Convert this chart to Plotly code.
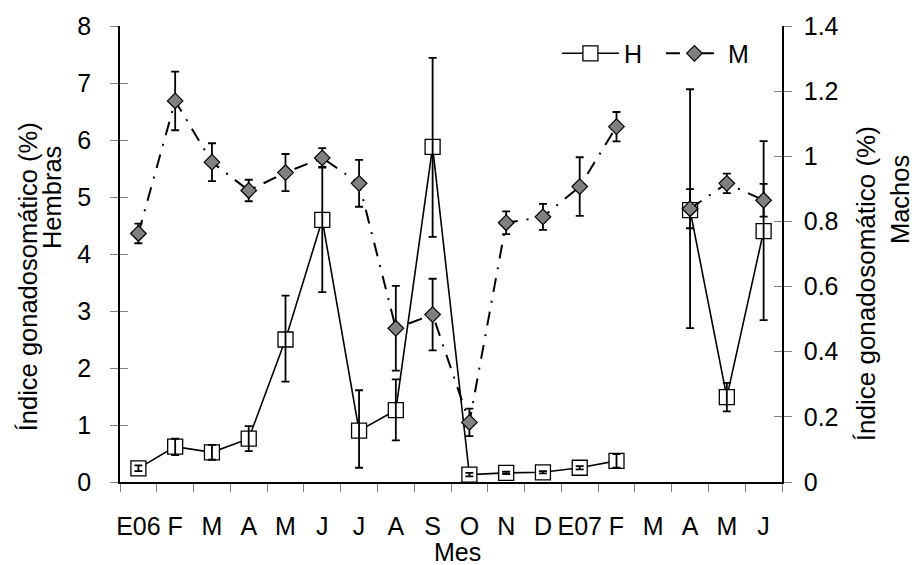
import plotly.graph_objects as go

# ---- data ----
months = ["E06", "F", "M", "A", "M", "J", "J", "A", "S", "O", "N", "D",
          "E07", "F", "M", "A", "M", "J"]
h_vals = [0.24, 0.62, 0.52, 0.76, 2.50, 4.60, 0.90, 1.26, 5.88, 0.13, 0.16, 0.17,
          0.25, 0.37, None, 4.77, 1.49, 4.40]
h_err_plus = [0.05, 0.14, 0.13, 0.22, 0.77, 0.93, 0.71, 0.54, 1.56, 0.03, 0.02, 0.02,
              0.03, 0.12, None, 2.12, 0.25, 1.58]
h_err_minus = [0.05, 0.15, 0.13, 0.22, 0.74, 1.27, 0.65, 0.53, 1.58, 0.03, 0.02, 0.02,
               0.03, 0.12, None, 2.07, 0.25, 1.56]
m_vals = [0.763, 1.170, 0.982, 0.895, 0.950, 0.995, 0.917, 0.472, 0.514, 0.183, 0.796, 0.814,
          0.907, 1.091, None, 0.839, 0.917, 0.865]
m_err = [0.030, 0.090, 0.058, 0.033, 0.057, 0.030, 0.072, 0.130, 0.110, 0.042, 0.035, 0.040,
         0.090, 0.045, None, 0.060, 0.030, 0.050]
left_ticks = [0, 1, 2, 3, 4, 5, 6, 7, 8]
right_ticks = [0, 0.2, 0.4, 0.6, 0.8, 1.0, 1.2, 1.4]

xpos = list(range(len(months)))
FONT = "Liberation Sans, Arial, sans-serif"
GRAY = "#808080"

fig = go.Figure()

# H line + markers
fig.add_trace(go.Scatter(
    x=xpos, y=h_vals, name="H", mode="lines+markers",
    line=dict(color="black", width=1.6),
    marker=dict(symbol="square", size=15, color="white", line=dict(color="black", width=1.3)),
    connectgaps=False,
))
# H error bars on top of markers
fig.add_trace(go.Scatter(
    x=xpos, y=h_vals, mode="markers", showlegend=False, hoverinfo="skip",
    marker=dict(size=1, opacity=0),
    error_y=dict(type="data", symmetric=False, array=h_err_plus, arrayminus=h_err_minus,
                 color="black", thickness=1.8, width=4),
))
# M on the right axis
fig.add_trace(go.Scatter(
    x=xpos, y=m_vals, name="M", mode="lines+markers", yaxis="y2",
    line=dict(color="black", width=2, dash="14px,9px,2px,9px"),
    marker=dict(symbol="diamond", size=12, color="#808080", line=dict(color="black", width=1.2)),
    error_y=dict(type="data", array=m_err, color="black", thickness=1.8, width=4),
    connectgaps=False,
))
# dummy traces for the inner half of the crossing y ticks
fig.add_trace(go.Scatter(x=[None], y=[None], yaxis="y3", showlegend=False, hoverinfo="skip"))
fig.add_trace(go.Scatter(x=[None], y=[None], yaxis="y4", showlegend=False, hoverinfo="skip"))

fig.update_layout(
    width=914, height=565,
    margin=dict(l=120, r=132, t=21, b=83),
    paper_bgcolor="white", plot_bgcolor="white",
    font=dict(family=FONT, size=25, color="black"),
    showlegend=True,
    legend=dict(orientation="h", x=0.66, y=0.99, xanchor="left", yanchor="top",
                font=dict(size=25), itemwidth=57, entrywidth=32, entrywidthmode="pixels",
                bgcolor="rgba(0,0,0,0)", tracegroupgap=0),
    xaxis=dict(range=[-0.5, len(months) - 0.5], tickmode="array", tickvals=xpos, ticktext=months,
               ticks="", showline=True, linecolor="black", linewidth=1.5, showgrid=False,
               zeroline=False, ticklabelstandoff=21,
               minor=dict(tickmode="linear", tick0=-0.5, dtick=1, ticks="outside", ticklen=8,
                          tickcolor=GRAY, tickwidth=1, showgrid=False)),
    yaxis=dict(range=[0, 8], tickmode="array", tickvals=left_ticks, ticks="outside", ticklen=8,
               tickcolor=GRAY, tickwidth=1, showline=True, linecolor="black", linewidth=1.5,
               showgrid=False, zeroline=False, ticklabelstandoff=14),
    yaxis2=dict(range=[0, 1.4], tickmode="array", tickvals=right_ticks,
                ticktext=[f"{v:g}" for v in right_ticks], overlaying="y", side="right",
                ticks="outside", ticklen=8, tickcolor=GRAY, tickwidth=1, showline=True,
                linecolor="black", linewidth=1.5, showgrid=False, zeroline=False,
                ticklabelstandoff=7),
    yaxis3=dict(range=[0, 8], tickmode="array", tickvals=left_ticks, overlaying="y", side="left",
                ticks="inside", ticklen=8, tickcolor=GRAY, tickwidth=1, showticklabels=False,
                showline=False, showgrid=False, zeroline=False),
    yaxis4=dict(range=[0, 1.4], tickmode="array", tickvals=right_ticks, overlaying="y", side="right",
                ticks="inside", ticklen=8, tickcolor=GRAY, tickwidth=1, showticklabels=False,
                showline=False, showgrid=False, zeroline=False),
)

def px_to_paper(px, py):
    return (px - 120) / 662.0, (482 - py) / 461.0

annots = [
    ("Índice gonadosomático (%)", 28, 275, -90, 25.5),
    ("Hembras", 52, 195, -90, 25.5),
    ("Índice gonadosomático (%)", 866, 282, -90, 26),
    ("Machos", 900, 197, -90, 25.5),
    ("Mes", 457, 553, 0, 25),
]
for text, px, py, ang, fs in annots:
    ax, ay = px_to_paper(px, py)
    fig.add_annotation(text=text, x=ax, y=ay, xref="paper", yref="paper", showarrow=False,
                       xanchor="center", yanchor="middle", textangle=ang,
                       font=dict(family=FONT, size=fs, color="black"))

fig.write_html("out.html")
